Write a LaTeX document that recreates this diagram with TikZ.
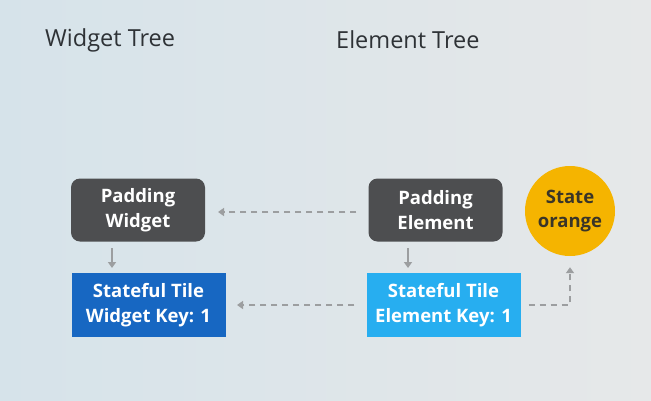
\documentclass[tikz,border=0pt]{standalone}
\usepackage{fontspec}
\setmainfont{Open Sans}
\usetikzlibrary{arrows.meta,positioning}
\definecolor{bgL}{HTML}{D6E3EA}
\definecolor{bgR}{HTML}{E6E8E9}
\definecolor{darkbox}{HTML}{4D4E50}
\definecolor{bluebox}{HTML}{1767C2}
\definecolor{lightblue}{HTML}{27AEF0}
\definecolor{statecol}{HTML}{F5B400}
\definecolor{statetext}{HTML}{3A3528}
\definecolor{arrowgray}{HTML}{9C9EA0}
\definecolor{titlecol}{HTML}{2E3236}
\tikzset{
  x=1pt,y=-1pt,
  boxfont/.style={font=\fontsize{18.5}{24.5}\selectfont\bfseries},
  boxtext/.style={boxfont,text=white,align=center,inner sep=0pt},
  darkbox/.style={boxtext,fill=darkbox,rounded corners=9pt,minimum width=134pt,minimum height=63pt},
  tilebox/.style={boxtext,minimum width=154pt,minimum height=64pt},
  titletext/.style={text=titlecol,font=\fontsize{23.5}{26}\selectfont,anchor=west,inner sep=0pt},
  solidarr/.style={draw=arrowgray,line width=1.6pt,-{Triangle[length=6pt,width=8pt]}},
  dasharr/.style={draw=arrowgray,line width=1.6pt,dash pattern=on 6pt off 5pt,-{Triangle[length=6pt,width=8pt]}},
}
\begin{document}
\begin{tikzpicture}
\shade[left color=bgL,right color=bgR] (0,0) rectangle (651,400);
\useasboundingbox (0,0) rectangle (651,400);
\node[titletext] (wt) at (45,40) {Widget Tree};
\node[titletext] (et) at (336,40) {Element Tree};
\node[darkbox] (pw) at (138,210) {Padding\\Widget};
\node[tilebox,fill=bluebox] (sw) at (148.5,305) {Stateful Tile\\Widget Key: 1};
\node[darkbox] (pe) at (435.5,210) {Padding\\Element};
\node[tilebox,fill=lightblue] (se) at (443.5,305) {Stateful Tile\\Element Key: 1};
\node[circle,fill=statecol,minimum size=90pt,inner sep=0pt,align=center,text=statetext,boxfont] (st) at (570,211) {State\\orange};
\draw[solidarr] (112,248) -- (112,268);
\draw[solidarr] (408,248) -- (408,268);
\draw[dasharr] ([xshift=-12pt,yshift=-2pt]pe.west) -- (218,212);
\draw[dasharr] ([xshift=-12pt]se.west) -- (237,305);
\draw[dasharr] ([xshift=8pt]se.east) -| ([yshift=-11pt]st.south);
\end{tikzpicture}
\end{document}
